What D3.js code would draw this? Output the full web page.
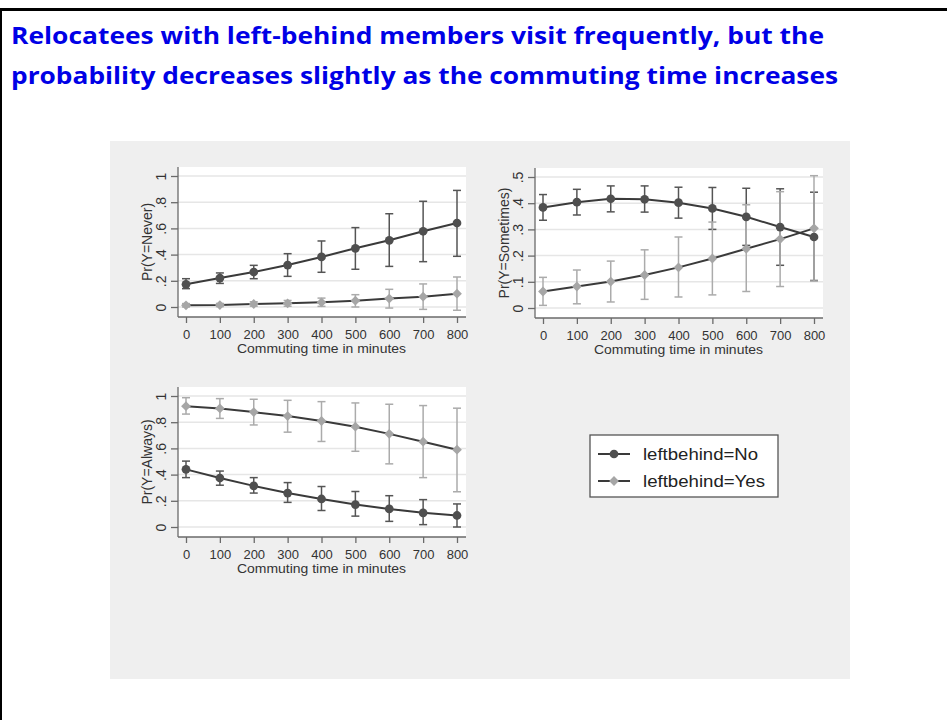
<!DOCTYPE html>
<html>
<head>
<meta charset="utf-8">
<script src="https://cdn.jsdelivr.net/npm/d3@7"></script>
<style>
  html, body { margin: 0; padding: 0; background: #ffffff; }
  svg { display: block; }
</style>
</head>
<body>
<svg id="slide" width="947" height="720"></svg>
<script>
// Commuting time (minutes) at which the margins are evaluated
const commute = [0, 100, 200, 300, 400, 500, 600, 700, 800];
const xTicks = [0, 100, 200, 300, 400, 500, 600, 700, 800];

// Pr(Y = Never)
const neverNo     = [0.173, 0.221, 0.267, 0.320, 0.382, 0.448, 0.509, 0.578, 0.641];
const neverNoLo   = [0.140, 0.180, 0.216, 0.234, 0.265, 0.288, 0.310, 0.346, 0.387];
const neverNoHi   = [0.216, 0.260, 0.318, 0.407, 0.504, 0.606, 0.712, 0.807, 0.890];
const neverYes    = [0.013, 0.015, 0.023, 0.028, 0.036, 0.048, 0.064, 0.079, 0.102];
const neverYesLo  = [0.000, 0.003, 0.006, 0.006, 0.005, 0.000, -0.008, -0.018, -0.025];
const neverYesHi  = [0.026, 0.027, 0.040, 0.050, 0.068, 0.094, 0.135, 0.176, 0.229];

// Pr(Y = Sometimes)
const sometimesNo    = [0.384, 0.404, 0.417, 0.415, 0.402, 0.380, 0.348, 0.309, 0.271];
const sometimesNoLo  = [0.335, 0.355, 0.367, 0.366, 0.343, 0.300, 0.239, 0.163, 0.105];
const sometimesNoHi  = [0.433, 0.453, 0.466, 0.466, 0.461, 0.460, 0.457, 0.455, 0.442];
const sometimesYes   = [0.063, 0.082, 0.101, 0.126, 0.155, 0.189, 0.226, 0.263, 0.304];
const sometimesYesLo = [0.010, 0.016, 0.023, 0.033, 0.042, 0.050, 0.063, 0.082, 0.103];
const sometimesYesHi = [0.117, 0.145, 0.179, 0.222, 0.271, 0.328, 0.394, 0.444, 0.505];

// Pr(Y = Always)
const alwaysNo    = [0.440, 0.374, 0.314, 0.259, 0.214, 0.171, 0.138, 0.108, 0.088];
const alwaysNoLo  = [0.377, 0.319, 0.259, 0.188, 0.126, 0.083, 0.043, 0.018, 0.000];
const alwaysNoHi  = [0.503, 0.427, 0.377, 0.339, 0.309, 0.271, 0.239, 0.209, 0.176];
const alwaysYes   = [0.922, 0.905, 0.877, 0.847, 0.809, 0.766, 0.711, 0.651, 0.590];
const alwaysYesLo = [0.862, 0.829, 0.779, 0.724, 0.653, 0.578, 0.482, 0.377, 0.269];
const alwaysYesHi = [0.987, 0.980, 0.975, 0.967, 0.957, 0.947, 0.937, 0.927, 0.907];

// Axis tick values and labels
const yTicksUnit = [0, 0.2, 0.4, 0.6, 0.8, 1];
const yLabelsUnit = ["0", ".2", ".4", ".6", ".8", "1"];
const yTicksHalf = [0, 0.1, 0.2, 0.3, 0.4, 0.5];
const yLabelsHalf = ["0", ".1", ".2", ".3", ".4", ".5"];

const xTitle = "Commuting time in minutes";
const seriesNames = ["leftbehind=No", "leftbehind=Yes"];
const titleLines = [
  "Relocatees with left-behind members visit frequently, but the",
  "probability decreases slightly as the commuting time increases"
];

// ---- styling ----
const FONT = "'Liberation Sans', Arial, Helvetica, sans-serif";
const DARK = "#4f4f4f";
const LIGHT = "#a6a6a6";
const LINE = "#3a3a3a";

const svg = d3.select("#slide");

// slide frame
svg.append("rect").attr("x", 0).attr("y", 0).attr("width", 947).attr("height", 720).attr("fill", "#ffffff");
svg.append("line").attr("x1", 0).attr("x2", 947).attr("y1", 9.5).attr("y2", 9.5)
  .attr("stroke", "#000").attr("stroke-width", 3);
svg.append("line").attr("x1", 1).attr("x2", 1).attr("y1", 8).attr("y2", 720)
  .attr("stroke", "#000").attr("stroke-width", 2);

// slide title
const titleWidths = [813, 827];
titleLines.forEach((t, i) => {
  svg.append("text")
    .attr("x", 11).attr("y", 44 + i * 40)
    .attr("font-family", "'Open Sans', 'Noto Sans', sans-serif")
    .attr("font-weight", 700)
    .attr("font-size", 24)
    .attr("fill", "#0000e6")
    .attr("textLength", titleWidths[i])
    .attr("lengthAdjust", "spacingAndGlyphs")
    .text(t);
});

// graph background
svg.append("rect").attr("x", 110).attr("y", 141).attr("width", 740).attr("height", 538)
  .attr("fill", "#efefef");

function panel(cfg) {
  const g = svg.append("g");
  const { left, top, right, bottom } = cfg;
  const x = d3.scaleLinear().domain([0, 800]).range([left + 8, right - 9]);
  const y = d3.scaleLinear().domain([0, cfg.yMax]).range([bottom - 10, top + 9]);

  // plot region
  g.append("rect").attr("x", left).attr("y", top).attr("width", right - left).attr("height", bottom - top)
    .attr("fill", "#ffffff");

  // gridlines
  g.selectAll(".grid").data(cfg.yTicks).enter().append("line")
    .attr("x1", left).attr("x2", right)
    .attr("y1", d => y(d)).attr("y2", d => y(d))
    .attr("stroke", "#e6e6e6").attr("stroke-width", 1.5);

  // y axis
  const ya = g.append("g").attr("transform", `translate(${left},0)`)
    .call(d3.axisLeft(y).tickValues(cfg.yTicks).tickSize(7).tickPadding(0)
      .tickFormat((d, i) => cfg.yLabels[i]));
  ya.select(".domain").attr("d", `M0,${top}V${bottom}`);
  ya.selectAll("text").remove();
  ya.selectAll(".tick").append("text")
    .attr("transform", "translate(-12.5,0) rotate(-90)")
    .attr("text-anchor", "middle")
    .attr("fill", "#333")
    .attr("font-size", 14)
    .attr("font-family", FONT)
    .text((d, i) => cfg.yLabels[i]);

  // x axis
  const xa = g.append("g").attr("transform", `translate(0,${bottom})`)
    .call(d3.axisBottom(x).tickValues(xTicks).tickSize(6).tickPadding(5));
  xa.select(".domain").attr("d", `M${left},0H${right}`);
  xa.selectAll("text").attr("font-size", 13).attr("font-family", FONT).attr("fill", "#333")
    .attr("dy", null).attr("y", 21.5);

  [ya, xa].forEach(a => {
    a.selectAll(".domain").attr("stroke", "#6a6a6a").attr("stroke-width", 1.3);
    a.selectAll(".tick line").attr("stroke", "#6a6a6a").attr("stroke-width", 1.3);
  });

  // axis titles
  g.append("text")
    .attr("x", (x(0) + x(800)) / 2).attr("y", bottom + 36)
    .attr("text-anchor", "middle").attr("font-size", 13.5).attr("font-family", FONT).attr("fill", "#333")
    .attr("textLength", 169).attr("lengthAdjust", "spacingAndGlyphs")
    .text(xTitle);
  g.append("text")
    .attr("transform", `translate(${left - 26},${(top + bottom) / 2}) rotate(-90)`)
    .attr("text-anchor", "middle").attr("font-size", 14).attr("font-family", FONT).attr("fill", "#333")
    .text(cfg.yTitle);

  // confidence intervals (capped spikes)
  const cap = 4;
  cfg.series.forEach(s => {
    const cg = g.append("g").attr("stroke", s.ciColor).attr("stroke-width", 1.5).attr("fill", "none");
    commute.forEach((c, i) => {
      const cx = x(c), y0 = y(s.lo[i]), y1 = y(s.hi[i]);
      cg.append("line").attr("x1", cx).attr("x2", cx).attr("y1", y0).attr("y2", y1);
      cg.append("line").attr("x1", cx - cap).attr("x2", cx + cap).attr("y1", y0).attr("y2", y0);
      cg.append("line").attr("x1", cx - cap).attr("x2", cx + cap).attr("y1", y1).attr("y2", y1);
    });
  });

  // connected lines with markers
  const line = d3.line().x((d, i) => x(commute[i])).y(d => y(d)).curve(d3.curveLinear);
  cfg.series.forEach(s => {
    g.append("path").datum(s.est).attr("d", line)
      .attr("fill", "none").attr("stroke", LINE).attr("stroke-width", 2);
    g.selectAll(null).data(s.est).enter().append("path")
      .attr("d", s.symbol)
      .attr("transform", (d, i) => `translate(${x(commute[i])},${y(d)})${s.rot ? " rotate(45)" : ""}`)
      .attr("fill", s.color);
  });
}

const circleSym = d3.symbol(d3.symbolCircle, 60)();
const diamondSym = d3.symbol(d3.symbolSquare, 48)();

function makeSeries(no, noLo, noHi, yes, yesLo, yesHi) {
  return [
    { est: no, lo: noLo, hi: noHi, color: DARK, ciColor: "#555555", symbol: circleSym, rot: false },
    { est: yes, lo: yesLo, hi: yesHi, color: LIGHT, ciColor: "#ababab", symbol: diamondSym, rot: true }
  ];
}

panel({
  left: 178, right: 466, top: 167, bottom: 317, yMax: 1,
  yTicks: yTicksUnit, yLabels: yLabelsUnit, yTitle: "Pr(Y=Never)",
  series: makeSeries(neverNo, neverNoLo, neverNoHi, neverYes, neverYesLo, neverYesHi)
});
panel({
  left: 535, right: 823, top: 168, bottom: 318, yMax: 0.5,
  yTicks: yTicksHalf, yLabels: yLabelsHalf, yTitle: "Pr(Y=Sometimes)",
  series: makeSeries(sometimesNo, sometimesNoLo, sometimesNoHi, sometimesYes, sometimesYesLo, sometimesYesHi)
});
panel({
  left: 178, right: 466, top: 387, bottom: 537, yMax: 1,
  yTicks: yTicksUnit, yLabels: yLabelsUnit, yTitle: "Pr(Y=Always)",
  series: makeSeries(alwaysNo, alwaysNoLo, alwaysNoHi, alwaysYes, alwaysYesLo, alwaysYesHi)
});

// legend
const lg = svg.append("g");
lg.append("rect").attr("x", 590).attr("y", 435).attr("width", 188).attr("height", 62)
  .attr("fill", "#ffffff").attr("stroke", "#555").attr("stroke-width", 1.3);
const legendSyms = [{ sym: circleSym, color: DARK, rot: false }, { sym: diamondSym, color: LIGHT, rot: true }];
const legendWidths = [115, 122];
seriesNames.forEach((name, i) => {
  const cy = 454 + i * 27;
  lg.append("line").attr("x1", 598).attr("x2", 630).attr("y1", cy).attr("y2", cy)
    .attr("stroke", LINE).attr("stroke-width", 2);
  lg.append("path").attr("d", legendSyms[i].sym)
    .attr("transform", `translate(614,${cy})${legendSyms[i].rot ? " rotate(45)" : ""}`)
    .attr("fill", legendSyms[i].color);
  lg.append("text").attr("x", 643).attr("y", cy + 6)
    .attr("font-size", 16).attr("font-family", FONT).attr("fill", "#222")
    .attr("textLength", legendWidths[i]).attr("lengthAdjust", "spacingAndGlyphs")
    .text(name);
});
</script>
</body>
</html>
